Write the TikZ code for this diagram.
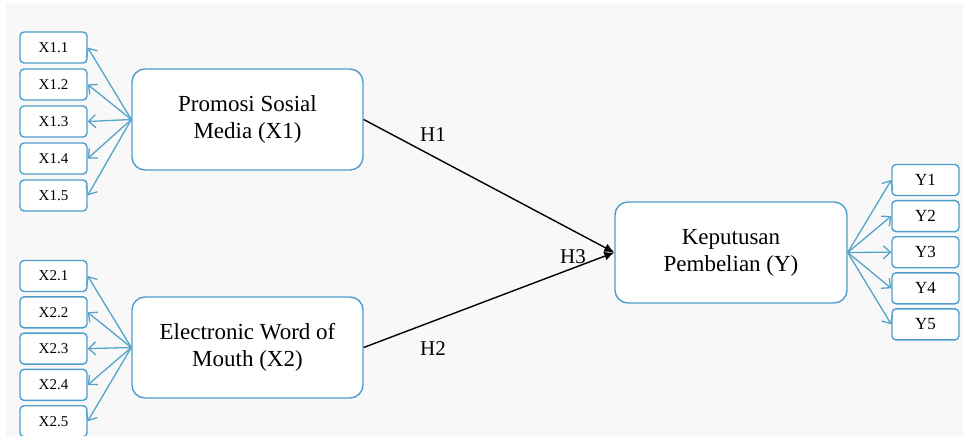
\documentclass[tikz,border=0pt]{standalone}
\usepackage{fontspec}
\setmainfont{Liberation Serif}
\usepackage[usenames,dvipsnames,x11names,rgb]{xcolor}
\usetikzlibrary{calc,arrows.meta}

\definecolor{boxblue}{RGB}{78,158,204}
\definecolor{arrowblue}{RGB}{84,164,202}
\definecolor{bggray}{RGB}{248,248,248}

\tikzset{
    varbox/.style={draw=boxblue, line width=1.4pt, rounded corners=13pt, fill=white,
        minimum width=231pt, minimum height=101pt, align=center,
        font=\fontsize{23}{27}\selectfont},
    indbox/.style={draw=boxblue, line width=1.4pt, rounded corners=4pt, fill=white,
        minimum width=67pt, minimum height=31pt, inner sep=0pt},
    loadarrow/.style={draw=arrowblue, line width=1.3pt, -{Straight Barb[length=7pt,width=13pt]}},
    patharrow/.style={draw=black, line width=1.4pt, -{Latex[length=10pt,width=9pt]}},
    hlabel/.style={font=\fontsize{21}{24}\selectfont}
}

\begin{document}
\begin{tikzpicture}[x=1pt, y=-1pt]
        \useasboundingbox (0,0) rectangle (963,436);
        \fill[bggray] (6,4) rectangle (963,436);

        % latent variables
        \node[varbox] (promosi) at (247.5,119.5) {Promosi Sosial\\Media (X1)};
        \node[varbox] (ewom) at (247.5,347.5) {Electronic Word of\\Mouth (X2)};
        \node[varbox, minimum width=232pt] (keputusan) at (731,252.5) {Keputusan\\Pembelian (Y)};

        % indicators
        \foreach \i in {1,...,5} {
            \node[indbox, font=\fontsize{15}{17}\selectfont] (xa\i) at (53.5, {47.5+37*(\i-1)}) {X1.\i};
            \draw[loadarrow] (promosi.west) -- (xa\i.east);
            \node[indbox, font=\fontsize{15}{17}\selectfont] (xb\i) at (53.5, {276+36.3*(\i-1)}) {X2.\i};
            \draw[loadarrow] (ewom.west) -- (xb\i.east);
            \node[indbox, font=\fontsize{17}{19}\selectfont] (y\i) at (925.5, {180+36.1*(\i-1)}) {Y\i};
            \draw[loadarrow] (keputusan.east) -- (y\i.west);
        }

        % hypotheses
        \draw[patharrow] (promosi.east) -- (keputusan.west);
        \draw[patharrow] (ewom.east) -- (keputusan.west);
        \node[hlabel] (h1) at (433,135) {H1};
        \node[hlabel] (h2) at (433,349) {H2};
        \node[hlabel] (h3) at (573,257) {H3};
    \end{tikzpicture}
\end{document}
